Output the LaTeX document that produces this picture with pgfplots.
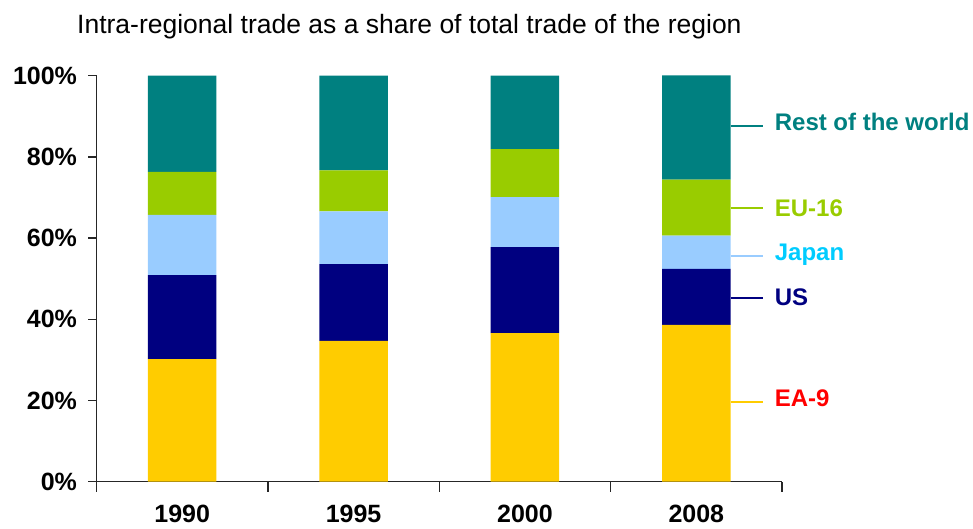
\documentclass[border=0pt]{standalone}
\usepackage{pgfplots}
\pgfplotsset{compat=1.18}
\usepackage{fontspec}
\setmainfont{Liberation Sans}

\definecolor{rest}{HTML}{008080}
\definecolor{eu}{HTML}{99CC00}
\definecolor{japan}{HTML}{99CCFF}
\definecolor{japantxt}{HTML}{00CCFF}
\definecolor{us}{HTML}{000080}
\definecolor{ea}{HTML}{FFCC00}

\begin{document}
\begin{tikzpicture}
\path[use as bounding box] (0,0) rectangle (973pt,529pt);
\node[anchor=base west, inner sep=0pt, font=\fontsize{26.5}{30}\selectfont] at (77pt,495pt)
  {Intra-regional trade as a share of total trade of the region};
\begin{axis}[
    at={(96.5pt,47.3pt)}, anchor=south west,
    scale only axis,
    width=685.5pt, height=406pt,
    ybar stacked, bar width=0.4,
    xmin=0, xmax=4, ymin=0, ymax=100,
    axis lines=left,
    axis line style={-, line width=1.3pt, black!85},
    tick style={line width=1.3pt, black!85},
    tick align=outside,
    xtick={0.5,1.5,2.5,3.5},
    xticklabels={1990,1995,2000,2008},
    x tick style={draw=none},
    extra x ticks={0,1,2,3,4},
    extra x tick labels={},
    extra x tick style={major tick length=10pt, x tick style={draw=black!85, line width=1.3pt}},
    major tick length=8pt,
    ytick={0,20,40,60,80,100},
    yticklabels={0\%,20\%,40\%,60\%,80\%,100\%},
    ticklabel style={font=\fontsize{25}{29}\selectfont\bfseries},
    yticklabel style={xshift=-8pt},
    xticklabel style={anchor=base, inner sep=0pt, yshift=-33pt},
    clip=false,
]
\addplot[fill=ea, draw=none] coordinates {(0.5,30.2) (1.5,34.7) (2.5,36.6) (3.5,38.6)};
\addplot[fill=us, draw=none] coordinates {(0.5,20.7) (1.5,18.9) (2.5,21.2) (3.5,13.8)};
\addplot[fill=japan, draw=none] coordinates {(0.5,14.8) (1.5,13.0) (2.5,12.3) (3.5,8.2)};
\addplot[fill=eu, draw=none] coordinates {(0.5,10.6) (1.5,10.1) (2.5,11.8) (3.5,13.8)};
\addplot[fill=rest, draw=none] coordinates {(0.5,23.7) (1.5,23.3) (2.5,18.1) (3.5,25.7)};

% leader lines and labels
\draw[draw=rest, line width=2pt] (axis cs:3.7,87.7) -- (axis cs:3.887,87.7);
\draw[draw=eu, line width=2pt] (axis cs:3.7,67.4) -- (axis cs:3.887,67.4);
\draw[draw=japan, line width=2pt] (axis cs:3.7,55.7) -- (axis cs:3.887,55.7);
\draw[draw=us, line width=2pt] (axis cs:3.7,45.3) -- (axis cs:3.887,45.3);
\draw[draw=ea, line width=2pt] (axis cs:3.7,19.7) -- (axis cs:3.887,19.7);
\node[anchor=base west, inner sep=0pt, font=\fontsize{24}{28}\selectfont\bfseries, text=rest] at (axis cs:3.957,86.6) {Rest of the world};
\node[anchor=base west, inner sep=0pt, font=\fontsize{24}{28}\selectfont\bfseries, text=eu] at (axis cs:3.957,65.3) {EU-16};
\node[anchor=base west, inner sep=0pt, font=\fontsize{24}{28}\selectfont\bfseries, text=japantxt] at (axis cs:3.957,54.6) {Japan};
\node[anchor=base west, inner sep=0pt, font=\fontsize{24}{28}\selectfont\bfseries, text=us] at (axis cs:3.957,43.5) {US};
\node[anchor=base west, inner sep=0pt, font=\fontsize{24}{28}\selectfont\bfseries, text=red] at (axis cs:3.957,18.4) {EA-9};
\end{axis}
\end{tikzpicture}
\end{document}
